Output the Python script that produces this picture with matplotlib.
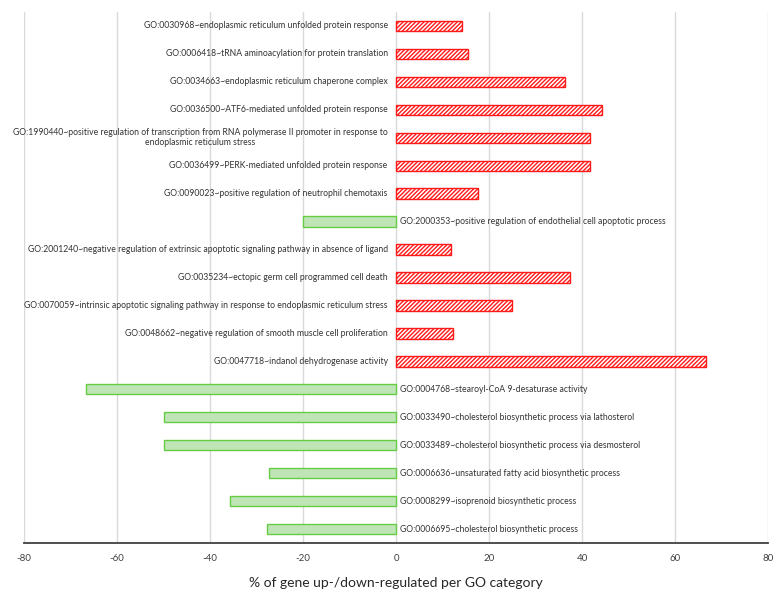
import matplotlib.pyplot as plt
import numpy as np

plt.rcParams['font.family'] = ['Lato', 'DejaVu Sans']
plt.rcParams['hatch.linewidth'] = 1.0
plt.rcParams['axes.unicode_minus'] = False

terms = [
    "GO:0030968~endoplasmic reticulum unfolded protein response",
    "GO:0006418~tRNA aminoacylation for protein translation",
    "GO:0034663~endoplasmic reticulum chaperone complex",
    "GO:0036500~ATF6-mediated unfolded protein response",
    "GO:1990440~positive regulation of transcription from RNA polymerase II promoter in response to\nendoplasmic reticulum stress",
    "GO:0036499~PERK-mediated unfolded protein response",
    "GO:0090023~positive regulation of neutrophil chemotaxis",
    "GO:2000353~positive regulation of endothelial cell apoptotic process",
    "GO:2001240~negative regulation of extrinsic apoptotic signaling pathway in absence of ligand",
    "GO:0035234~ectopic germ cell programmed cell death",
    "GO:0070059~intrinsic apoptotic signaling pathway in response to endoplasmic reticulum stress",
    "GO:0048662~negative regulation of smooth muscle cell proliferation",
    "GO:0047718~indanol dehydrogenase activity",
    "GO:0004768~stearoyl-CoA 9-desaturase activity",
    "GO:0033490~cholesterol biosynthetic process via lathosterol",
    "GO:0033489~cholesterol biosynthetic process via desmosterol",
    "GO:0006636~unsaturated fatty acid biosynthetic process",
    "GO:0008299~isoprenoid biosynthetic process",
    "GO:0006695~cholesterol biosynthetic process",
]
values = [14.3, 15.4, 36.4, 44.4, 41.7, 41.7, 17.6, -20.0, 11.8, 37.5, 25.0,
          12.2, 66.7, -66.7, -50.0, -50.0, -27.3, -35.7, -27.8]

fig = plt.figure(figsize=(7.84, 5.94), dpi=100)
ax = fig.add_axes([24/784, 1 - 543/594, 744/784, 531/594])

y = np.arange(len(terms))
vals = np.array(values)
pos = vals > 0

ax.barh(y[pos], vals[pos], height=0.37, color='white', edgecolor='#ff1a1a',
        hatch='////////', linewidth=1.0, zorder=3)
ax.barh(y[~pos], vals[~pos], height=0.37, color='#bfe4b5', edgecolor='#66cc44',
        linewidth=1.0, zorder=3)

for yi, v, t in zip(y, vals, terms):
    if v > 0:
        ax.annotate(t, (0, yi), xytext=(-6, 0), textcoords='offset points',
                    ha='right', va='center', multialignment='center',
                    fontsize=6.2, color='#333333')
    else:
        ax.annotate(t, (0, yi), xytext=(3, 0), textcoords='offset points',
                    ha='left', va='center', fontsize=6.2, color='#333333')

ax.set_ylim(len(terms) - 0.5, -0.5)
ax.set_xlim(-80, 80)
ax.set_xticks(np.arange(-80, 81, 20))
ax.set_yticks([])
ax.grid(axis='x', color='#d9d9d9', linewidth=1.0, zorder=0)
for s in ['top', 'left', 'right']:
    ax.spines[s].set_visible(False)
ax.spines['bottom'].set_color('#404040')
ax.spines['bottom'].set_linewidth(1.3)
ax.tick_params(axis='x', length=0, labelsize=7, labelcolor='#404040', pad=8)
ax.set_xlabel("% of gene up-/down-regulated per GO category", fontsize=10,
              color='#262626', labelpad=10)

fig.savefig('out.png', dpi=100)
